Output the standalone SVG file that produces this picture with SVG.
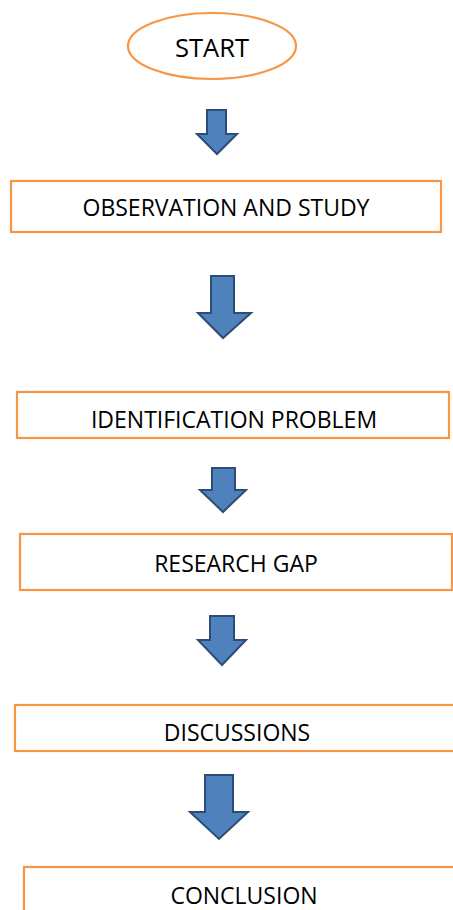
<svg xmlns="http://www.w3.org/2000/svg" width="453" height="910" viewBox="0 0 453 910">
<style>
.box{fill:#fff;stroke:#F79646;stroke-width:2.2}
.arr{fill:#4F81BD;stroke:#2C4D75;stroke-width:2;stroke-linejoin:miter}
.t{font-family:"Open Sans","Liberation Sans",sans-serif;font-size:23px;fill:#000;text-anchor:middle}
</style>
<rect width="453" height="910" fill="#fff"/>
<g id="start">
<ellipse class="box" cx="212" cy="46" rx="84" ry="33"/>
<text class="t" x="212" y="57" style="font-size:25.5px">START</text>
</g>
<g id="observation">
<rect class="box" x="11" y="181" width="430" height="51"/>
<text class="t" x="226" y="216">OBSERVATION AND STUDY</text>
</g>
<g id="identification">
<rect class="box" x="17" y="392" width="432" height="46"/>
<text class="t" x="234" y="428">IDENTIFICATION PROBLEM</text>
</g>
<g id="gap">
<rect class="box" x="20" y="534" width="432" height="56"/>
<text class="t" x="236" y="572">RESEARCH GAP</text>
</g>
<g id="discussions">
<rect class="box" x="15" y="705" width="450" height="46"/>
<text class="t" x="237" y="741">DISCUSSIONS</text>
</g>
<g id="conclusion">
<rect class="box" x="24" y="867" width="440" height="60"/>
<text class="t" x="244" y="904">CONCLUSION</text>
</g>
<g id="connectors">
<path class="arr" d="M207,110 H226 V134 H237 L217,154 L197,134 H207 Z"/>
<path class="arr" d="M211,276 H234 V313 H251 L223,338 L198,313 H211 Z"/>
<path class="arr" d="M212,468 H235 V490 H246 L223,512 L200,490 H212 Z"/>
<path class="arr" d="M210,616 H234 V640 H246 L222,665 L198,640 H210 Z"/>
<path class="arr" d="M205,775 H233 V812 H248 L219,839 L190,812 H205 Z"/>
</g>
</svg>
